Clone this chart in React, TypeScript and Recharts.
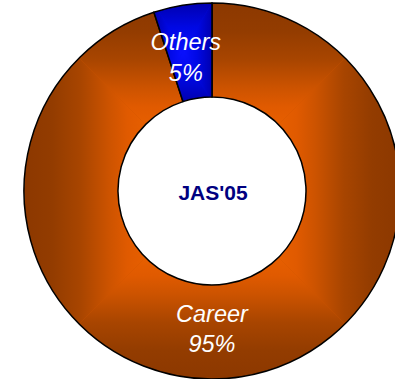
import React from 'react';
import { PieChart, Pie, Cell } from 'recharts';

const categories = ['Career', 'Others'];
const values = [95, 5];
const centerTitle = "JAS'05";

const data = categories.map((name, i) => ({ name, value: values[i] }));

const palettes = [
  {
    id: 'career',
    stops: [
      [0, '#8c3800'],
      [0.15, '#933c00'],
      [0.3, '#a84500'],
      [0.45, '#cc5300'],
      [0.55, '#e05a00'],
      [1, '#ff7000'],
    ],
  },
  {
    id: 'others',
    stops: [
      [0, '#0000b0'],
      [0.5, '#0008e4'],
      [1, '#0a10ff'],
    ],
  },
];

const RADIAN = Math.PI / 180;
const FONT = "'Liberation Sans', Arial, sans-serif";

function RectGradient({ id, stops }: { id: string; stops: any[] }) {
  const st = stops.map(([o, c]) => <stop key={o} offset={o} stopColor={c} />);
  const midColor = stops[Math.floor(stops.length / 2)][1];
  return (
    <>
      <linearGradient id={`${id}-t`} x1="0" y1="0" x2="0" y2="1">{st}</linearGradient>
      <linearGradient id={`${id}-b`} x1="0" y1="1" x2="0" y2="0">{st}</linearGradient>
      <linearGradient id={`${id}-l`} x1="0" y1="0" x2="1" y2="0">{st}</linearGradient>
      <linearGradient id={`${id}-r`} x1="1" y1="0" x2="0" y2="0">{st}</linearGradient>
      <pattern id={`pat-${id}`} patternUnits="objectBoundingBox" patternContentUnits="objectBoundingBox" x="0" y="0" width="1" height="1">
        <rect x="0" y="0" width="1" height="1" fill={midColor} />
        <polygon points="0,0 1,0 0.5,0.5" fill={`url(#${id}-t)`} />
        <polygon points="0,1 1,1 0.5,0.5" fill={`url(#${id}-b)`} />
        <polygon points="0,0 0,1 0.5,0.5" fill={`url(#${id}-l)`} />
        <polygon points="1,0 1,1 0.5,0.5" fill={`url(#${id}-r)`} />
      </pattern>
    </>
  );
}

const renderLabel = (props: any) => {
  const { cx, cy, midAngle, innerRadius, outerRadius, percent, name, index } = props;
  const r = (innerRadius + outerRadius) / 2 - 4;
  const angle = percent > 0.5 ? -90 : midAngle + 2;
  const x = cx + r * Math.cos(-angle * RADIAN);
  const y = cy + r * Math.sin(-angle * RADIAN);
  return (
    <g>
      <text x={x} y={y} textAnchor="middle" fill="#ffffff" fontFamily={FONT} fontStyle="italic" fontSize={23.5}>
        <tspan x={x} y={y - 6.5}>{name}</tspan>
        <tspan x={x} y={y + 24}>{`${Math.round(percent * 100)}%`}</tspan>
      </text>
      {index === 0 && (
        <text x={cx + 1} y={cy + 9} textAnchor="middle" fill="#000080" fontFamily={FONT} fontWeight="bold" fontSize={21}>
          {centerTitle}
        </text>
      )}
    </g>
  );
};

export default function App() {
  return (
    <div style={{ position: 'absolute', left: 0, top: 0, background: '#fff' }}>
      <PieChart width={395} height={379} margin={{ top: 0, right: 0, bottom: 0, left: 0 }}>
        <defs>
          {palettes.map((p) => (
            <RectGradient key={p.id} {...p} />
          ))}
        </defs>
        <Pie
          data={data}
          dataKey="value"
          nameKey="name"
          cx={212}
          cy={191}
          innerRadius={94}
          outerRadius={188}
          startAngle={90}
          endAngle={-270}
          stroke="#000000"
          strokeWidth={1.5}
          label={renderLabel}
          labelLine={false}
          isAnimationActive={false}
        >
          {data.map((d, i) => (
            <Cell key={d.name} fill={`url(#pat-${palettes[i].id})`} />
          ))}
        </Pie>
      </PieChart>
    </div>
  );
}
